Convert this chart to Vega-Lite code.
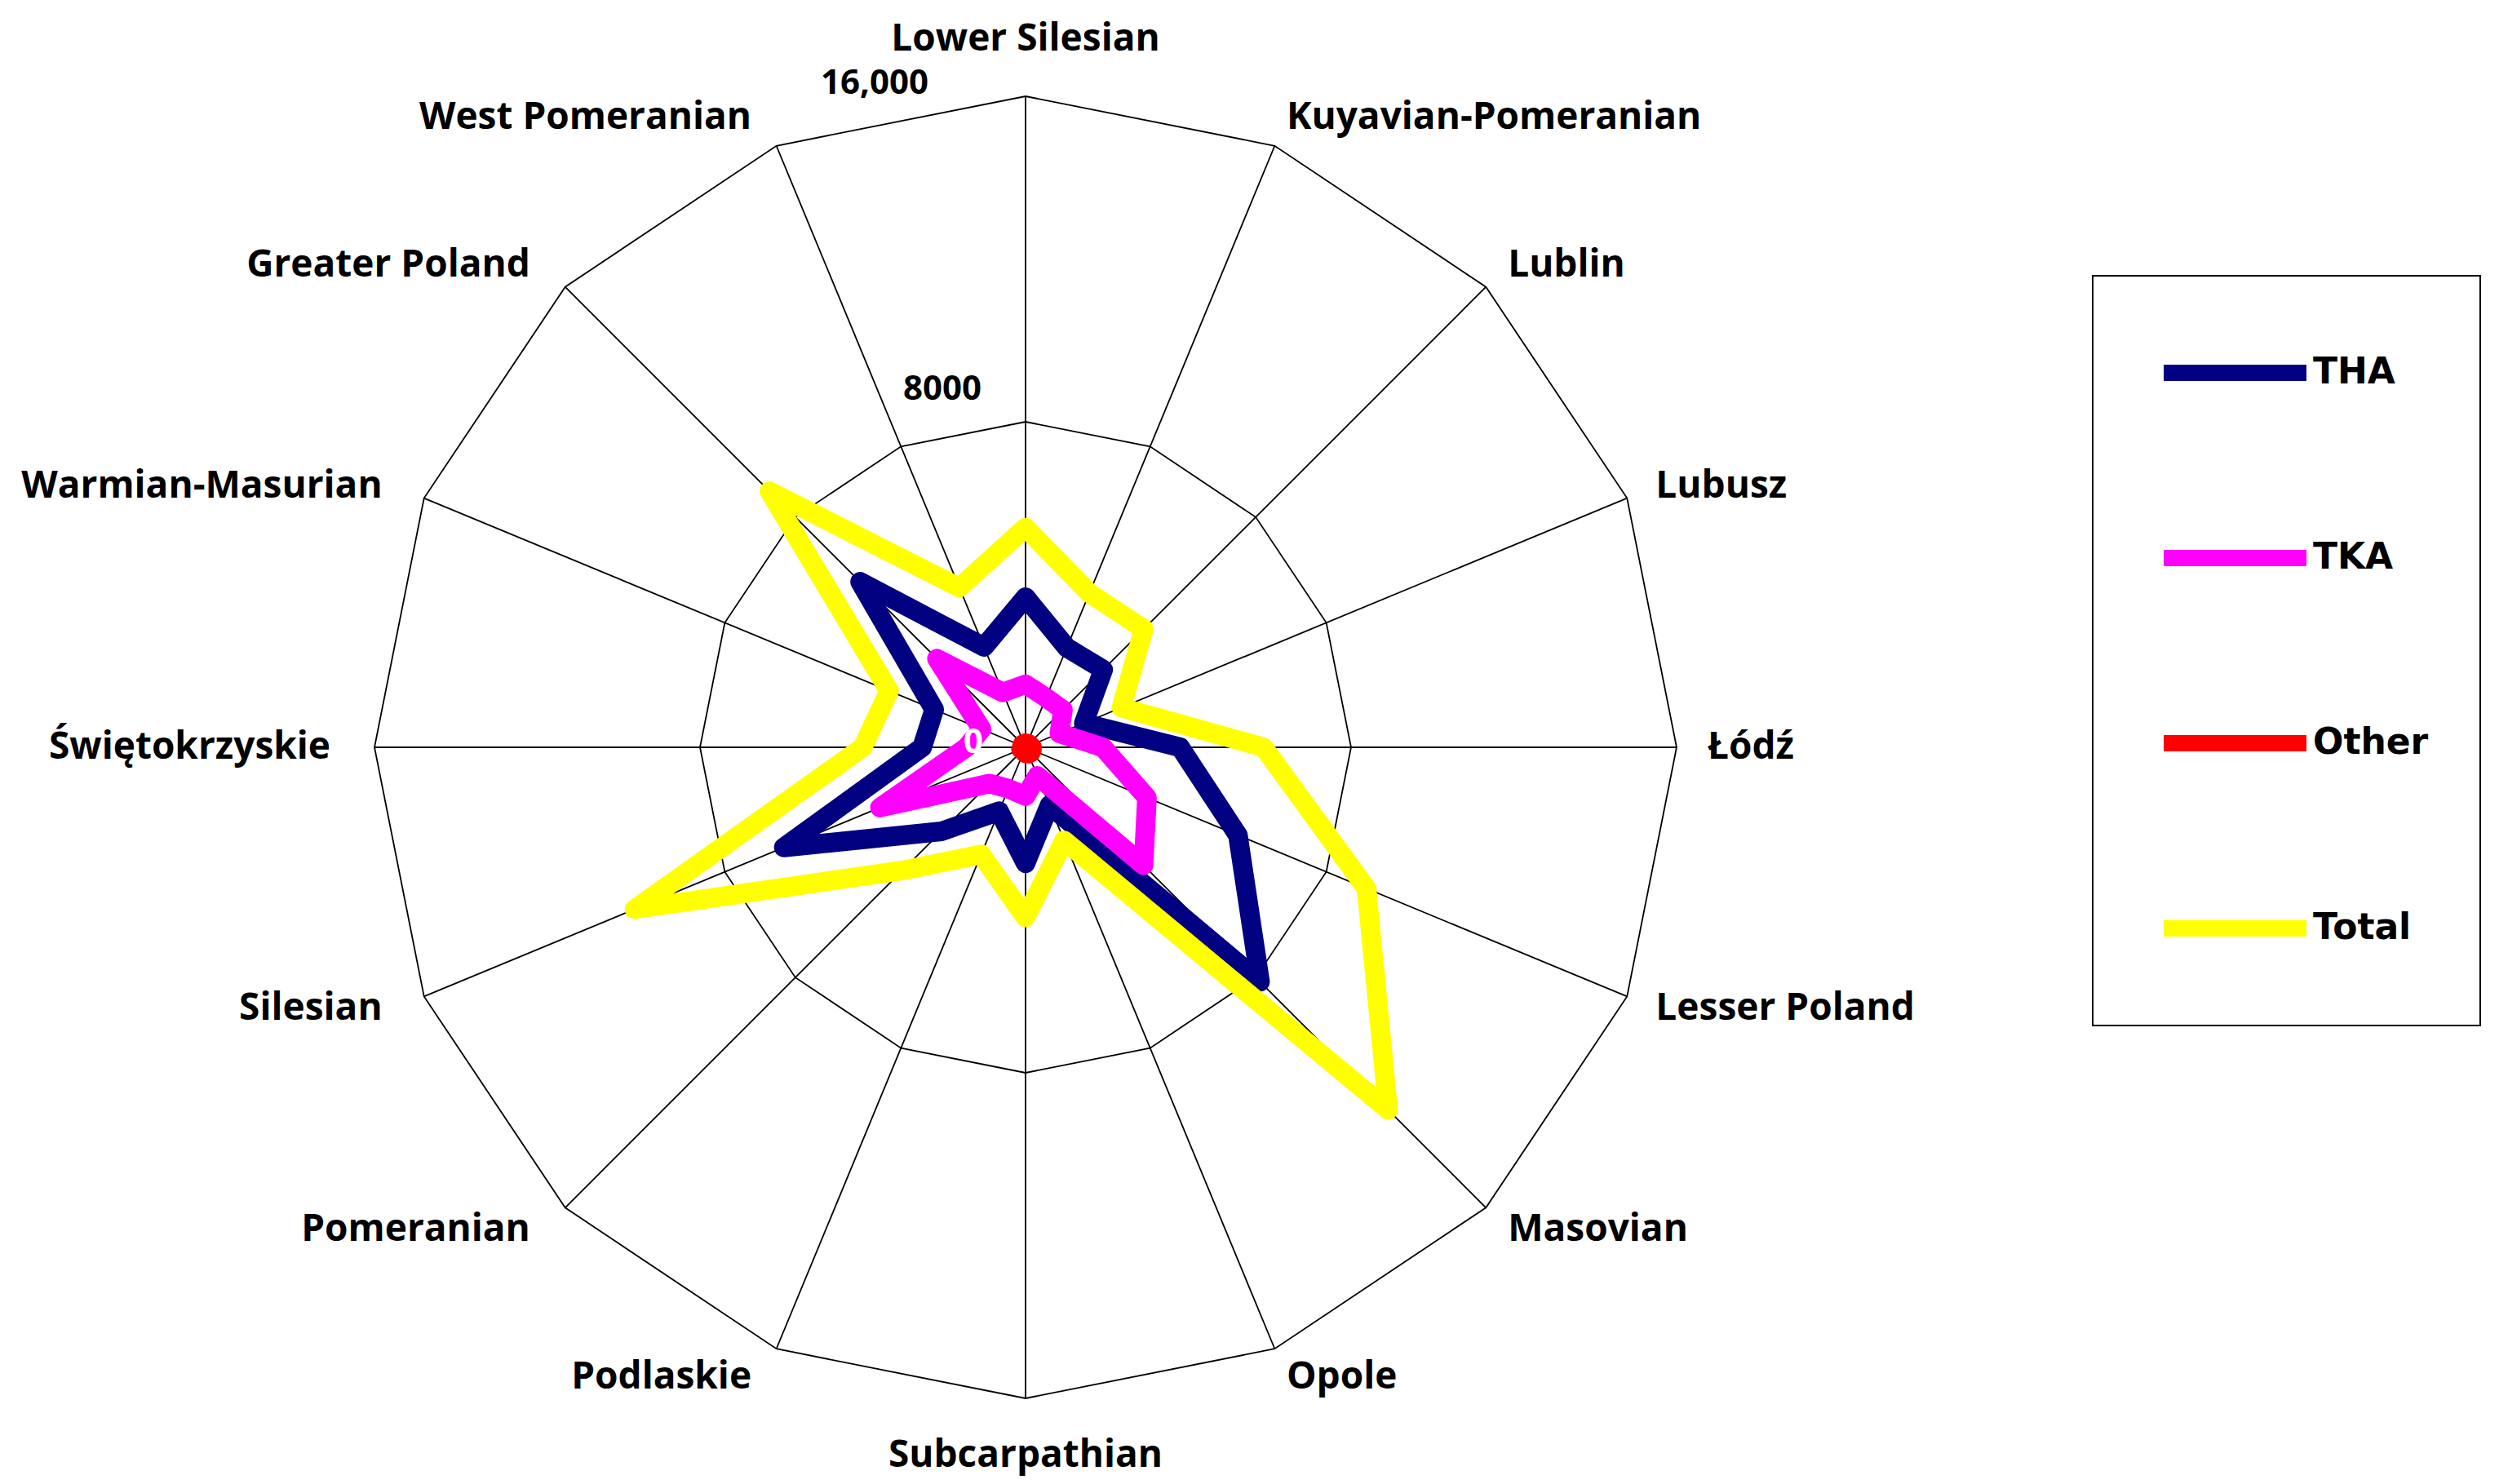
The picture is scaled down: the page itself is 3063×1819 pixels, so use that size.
{
  "$schema": "https://vega.github.io/schema/vega-lite/v6.json",
  "width": 3063,
  "height": 1819,
  "autosize": {"type": "none"},
  "padding": 0,
  "background": "white",
  "config": {
    "view": {"stroke": null},
    "legend": {
      "symbolType": "stroke",
      "symbolSize": 30625,
      "symbolStrokeWidth": 20,
      "symbolOpacity": 1,
      "labelFont": "DejaVu Sans",
      "labelFontSize": 44,
      "labelFontWeight": "bold",
      "labelColor": "black",
      "padding": 63,
      "clipHeight": 112,
      "rowPadding": 115,
      "symbolOffset": 14,
      "labelOffset": -2,
      "strokeColor": "black",
      "strokeWidth": 2
    }
  },
  "datasets": {
    "cats": [
      {"region": "Lower Silesian", "k": 0},
      {"region": "Kuyavian-Pomeranian", "k": 1},
      {"region": "Lublin", "k": 2},
      {"region": "Lubusz", "k": 3},
      {"region": "Łódź", "k": 4},
      {"region": "Lesser Poland", "k": 5},
      {"region": "Masovian", "k": 6},
      {"region": "Opole", "k": 7},
      {"region": "Subcarpathian", "k": 8},
      {"region": "Podlaskie", "k": 9},
      {"region": "Pomeranian", "k": 10},
      {"region": "Silesian", "k": 11},
      {"region": "Świętokrzyskie", "k": 12},
      {"region": "Warmian-Masurian", "k": 13},
      {"region": "Greater Poland", "k": 14},
      {"region": "West Pomeranian", "k": 15}
    ],
    "vals": [
      {"region": "Lower Silesian", "THA": 3690, "TKA": 1550, "Other": 100, "Total": 5400},
      {"region": "Kuyavian-Pomeranian", "THA": 2650, "TKA": 1320, "Other": 100, "Total": 4100},
      {"region": "Lublin", "THA": 2700, "TKA": 1300, "Other": 110, "Total": 4110},
      {"region": "Lubusz", "THA": 1550, "TKA": 900, "Other": 120, "Total": 2550},
      {"region": "Łódź", "THA": 3800, "TKA": 1900, "Other": 160, "Total": 5850},
      {"region": "Lesser Poland", "THA": 5650, "TKA": 3230, "Other": 170, "Total": 9070},
      {"region": "Masovian", "THA": 8150, "TKA": 4100, "Other": 180, "Total": 12600},
      {"region": "Opole", "THA": 1540, "TKA": 760, "Other": 170, "Total": 2480},
      {"region": "Subcarpathian", "THA": 2850, "TKA": 1200, "Other": 150, "Total": 4180},
      {"region": "Podlaskie", "THA": 1700, "TKA": 1100, "Other": 110, "Total": 2850},
      {"region": "Pomeranian", "THA": 2920, "TKA": 1260, "Other": 100, "Total": 4280},
      {"region": "Silesian", "THA": 6430, "TKA": 3870, "Other": 120, "Total": 10400},
      {"region": "Świętokrzyskie", "THA": 2540, "TKA": 1450, "Other": 90, "Total": 4000},
      {"region": "Warmian-Masurian", "THA": 2430, "TKA": 1170, "Other": 90, "Total": 3630},
      {"region": "Greater Poland", "THA": 5750, "TKA": 3080, "Other": 100, "Total": 8900},
      {"region": "West Pomeranian", "THA": 2670, "TKA": 1460, "Other": 90, "Total": 4250}
    ],
    "ticks": [
      {"value": 0, "label": "0"},
      {"value": 8000, "label": "8000"},
      {"value": 16000, "label": "16,000"}
    ]
  },
  "encoding": {
    "x": {"field": "px", "type": "quantitative", "scale": {"domain": [-25203, 36210.5], "nice": false, "zero": false}, "axis": null},
    "y": {"field": "py", "type": "quantitative", "scale": {"domain": [-18105.3, 18365.9], "nice": false, "zero": false}, "axis": null}
  },
  "layer": [
    {
      "data": {"name": "cats"},
      "transform": [
        {"calculate": "16000*sin(datum.k*PI/8)", "as": "px"},
        {"calculate": "16000*cos(datum.k*PI/8)", "as": "py"}
      ],
      "mark": {"type": "rule", "color": "black", "strokeWidth": 1.8},
      "encoding": {"x2": {"datum": 0}, "y2": {"datum": 0}}
    },
    {
      "data": {"name": "cats"},
      "transform": [
        {"calculate": "8000*sin(datum.k*PI/8)", "as": "px"},
        {"calculate": "8000*cos(datum.k*PI/8)", "as": "py"}
      ],
      "mark": {"type": "line", "interpolate": "linear-closed", "color": "black", "strokeWidth": 1.8},
      "encoding": {"order": {"field": "k", "type": "quantitative"}}
    },
    {
      "data": {"name": "cats"},
      "transform": [
        {"calculate": "16000*sin(datum.k*PI/8)", "as": "px"},
        {"calculate": "16000*cos(datum.k*PI/8)", "as": "py"}
      ],
      "mark": {"type": "line", "interpolate": "linear-closed", "color": "black", "strokeWidth": 1.8},
      "encoding": {"order": {"field": "k", "type": "quantitative"}}
    },
    {
      "data": {"name": "vals"},
      "transform": [
        {"fold": ["THA", "TKA", "Other", "Total"], "as": ["series", "value"]},
        {"filter": "datum.series == 'THA'"},
        {"lookup": "region", "from": {"data": {"name": "cats"}, "key": "region", "fields": ["k"]}},
        {"calculate": "datum.value*sin(datum.k*PI/8)", "as": "px"},
        {"calculate": "datum.value*cos(datum.k*PI/8)", "as": "py"}
      ],
      "mark": {"type": "line", "interpolate": "linear-closed", "strokeWidth": 24, "strokeJoin": "round", "strokeCap": "round"},
      "encoding": {
        "order": {"field": "k", "type": "quantitative"},
        "color": {"field": "series", "type": "nominal", "scale": {"domain": ["THA", "TKA", "Other", "Total"], "range": ["#000080", "#FF00FF", "#FF0000", "#FFFF00"]}, "legend": {"orient": "none", "legendX": 2565, "legendY": 338, "title": null}}
      }
    },
    {
      "data": {"name": "vals"},
      "transform": [
        {"fold": ["THA", "TKA", "Other", "Total"], "as": ["series", "value"]},
        {"filter": "datum.series == 'TKA'"},
        {"lookup": "region", "from": {"data": {"name": "cats"}, "key": "region", "fields": ["k"]}},
        {"calculate": "datum.value*sin(datum.k*PI/8)", "as": "px"},
        {"calculate": "datum.value*cos(datum.k*PI/8)", "as": "py"}
      ],
      "mark": {"type": "line", "interpolate": "linear-closed", "strokeWidth": 24, "strokeJoin": "round", "strokeCap": "round"},
      "encoding": {
        "order": {"field": "k", "type": "quantitative"},
        "color": {"field": "series", "type": "nominal", "scale": {"domain": ["THA", "TKA", "Other", "Total"], "range": ["#000080", "#FF00FF", "#FF0000", "#FFFF00"]}, "legend": {"orient": "none", "legendX": 2565, "legendY": 338, "title": null}}
      }
    },
    {
      "data": {"name": "vals"},
      "transform": [
        {"fold": ["THA", "TKA", "Other", "Total"], "as": ["series", "value"]},
        {"filter": "datum.series == 'Other'"},
        {"lookup": "region", "from": {"data": {"name": "cats"}, "key": "region", "fields": ["k"]}},
        {"calculate": "datum.value*sin(datum.k*PI/8)", "as": "px"},
        {"calculate": "datum.value*cos(datum.k*PI/8)", "as": "py"}
      ],
      "mark": {"type": "line", "interpolate": "linear-closed", "strokeWidth": 24, "strokeJoin": "round", "strokeCap": "round"},
      "encoding": {
        "order": {"field": "k", "type": "quantitative"},
        "color": {"field": "series", "type": "nominal", "scale": {"domain": ["THA", "TKA", "Other", "Total"], "range": ["#000080", "#FF00FF", "#FF0000", "#FFFF00"]}, "legend": {"orient": "none", "legendX": 2565, "legendY": 338, "title": null}}
      }
    },
    {
      "data": {"name": "vals"},
      "transform": [
        {"fold": ["THA", "TKA", "Other", "Total"], "as": ["series", "value"]},
        {"filter": "datum.series == 'Total'"},
        {"lookup": "region", "from": {"data": {"name": "cats"}, "key": "region", "fields": ["k"]}},
        {"calculate": "datum.value*sin(datum.k*PI/8)", "as": "px"},
        {"calculate": "datum.value*cos(datum.k*PI/8)", "as": "py"}
      ],
      "mark": {"type": "line", "interpolate": "linear-closed", "strokeWidth": 24, "strokeJoin": "round", "strokeCap": "round"},
      "encoding": {
        "order": {"field": "k", "type": "quantitative"},
        "color": {"field": "series", "type": "nominal", "scale": {"domain": ["THA", "TKA", "Other", "Total"], "range": ["#000080", "#FF00FF", "#FF0000", "#FFFF00"]}, "legend": {"orient": "none", "legendX": 2565, "legendY": 338, "title": null}}
      }
    },
    {
      "data": {"name": "cats"},
      "transform": [
        {"filter": "datum.k >= 1 && datum.k <= 7"},
        {"calculate": "16762*sin(datum.k*PI/8)", "as": "px"},
        {"calculate": "16762*cos(datum.k*PI/8)", "as": "py"}
      ],
      "mark": {"type": "text", "align": "left", "baseline": "middle", "font": "Open Sans", "fontWeight": "bold", "fontSize": 46, "color": "black"},
      "encoding": {"text": {"field": "region"}}
    },
    {
      "data": {"name": "cats"},
      "transform": [
        {"filter": "datum.k >= 9"},
        {"calculate": "16762*sin(datum.k*PI/8)", "as": "px"},
        {"calculate": "16762*cos(datum.k*PI/8)", "as": "py"}
      ],
      "mark": {"type": "text", "align": "right", "baseline": "middle", "dx": -16, "font": "Open Sans", "fontWeight": "bold", "fontSize": 46, "color": "black"},
      "encoding": {"text": {"field": "region"}}
    },
    {
      "data": {"name": "cats"},
      "transform": [
        {"filter": "datum.k == 0"},
        {"calculate": "16762*sin(datum.k*PI/8)", "as": "px"},
        {"calculate": "16762*cos(datum.k*PI/8)", "as": "py"}
      ],
      "mark": {"type": "text", "align": "center", "baseline": "middle", "dy": -32, "font": "Open Sans", "fontWeight": "bold", "fontSize": 46, "color": "black"},
      "encoding": {"text": {"field": "region"}}
    },
    {
      "data": {"name": "cats"},
      "transform": [
        {"filter": "datum.k == 8"},
        {"calculate": "16762*sin(datum.k*PI/8)", "as": "px"},
        {"calculate": "16762*cos(datum.k*PI/8)", "as": "py"}
      ],
      "mark": {"type": "text", "align": "center", "baseline": "middle", "dy": 32, "font": "Open Sans", "fontWeight": "bold", "fontSize": 46, "color": "black"},
      "encoding": {"text": {"field": "region"}}
    },
    {
      "data": {"name": "ticks"},
      "transform": [
        {"filter": "datum.value == 0"},
        {"calculate": "0", "as": "px"},
        {"calculate": "datum.value", "as": "py"}
      ],
      "mark": {"type": "text", "align": "right", "baseline": "middle", "dx": -52, "dy": -6, "font": "Open Sans", "fontWeight": "bold", "fontSize": 42, "color": "white"},
      "encoding": {"text": {"field": "label"}}
    },
    {
      "data": {"name": "ticks"},
      "transform": [
        {"filter": "datum.value == 8000"},
        {"calculate": "0", "as": "px"},
        {"calculate": "datum.value", "as": "py"}
      ],
      "mark": {"type": "text", "align": "right", "baseline": "middle", "dx": -54, "dy": -40, "font": "Open Sans", "fontWeight": "bold", "fontSize": 42, "color": "black"},
      "encoding": {"text": {"field": "label"}}
    },
    {
      "data": {"name": "ticks"},
      "transform": [
        {"filter": "datum.value == 16000"},
        {"calculate": "0", "as": "px"},
        {"calculate": "datum.value", "as": "py"}
      ],
      "mark": {"type": "text", "align": "right", "baseline": "middle", "dx": -119, "dy": -16, "font": "Open Sans", "fontWeight": "bold", "fontSize": 42, "color": "black"},
      "encoding": {"text": {"field": "label"}}
    }
  ]
}
